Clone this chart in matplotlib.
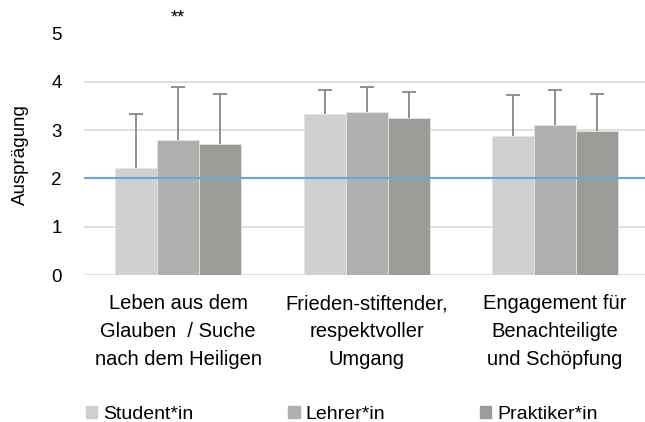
import numpy as np
import matplotlib.pyplot as plt
import matplotlib.patches as mpatches

plt.rcParams['font.family'] = ['Liberation Sans', 'DejaVu Sans']

categories = ['Leben aus dem\nGlauben  / Suche\nnach dem Heiligen',
              'Frieden-stiftender,\nrespektvoller\nUmgang',
              'Engagement für\nBenachteiligte\nund Schöpfung']
series = ['Student*in', 'Lehrer*in', 'Praktiker*in']
means = [[2.21, 3.34, 2.87],
         [2.79, 3.38, 3.11],
         [2.72, 3.25, 2.99]]
errs = [[1.13, 0.50, 0.85],
        [1.10, 0.51, 0.71],
        [1.03, 0.53, 0.76]]
colors = ['#d0d0cf', '#b0b0af', '#9b9c97']
ref_line = 2
sig_marks = ['**', '', '']

fig = plt.figure(figsize=(6.45, 4.22), dpi=100)
ax = fig.add_axes([84/645, 1-275/422, 1-84/645, (275-33.5)/422])

x = np.arange(len(categories))
w = 0.223
for i, s in enumerate(series):
    ax.bar(x + (i-1)*w, means[i], w, color=colors[i], edgecolor='#e4e4e4', linewidth=0.6,
           label=s, zorder=3)
    eb = ax.errorbar(x + (i-1)*w, means[i], yerr=[np.zeros(3), errs[i]], fmt='none',
                     ecolor='#878883', elinewidth=1.3, capsize=5, capthick=1.3, zorder=4)
    eb[1][0].set_visible(False)  # no lower cap

ax.axhline(ref_line, color='#6fa3dc', linewidth=1.5, zorder=5)

for xi, m in zip(x, sig_marks):
    if m:
        ax.text(xi, 5.33, m, ha='center', va='center', fontsize=13)

ax.set_ylim(0, 5)
ax.set_xlim(-0.5, 2.478)
ax.set_yticks(range(6))
ax.set_xticks(x)
ax.set_xticklabels(categories, fontsize=14.5, linespacing=1.6)
ax.tick_params(axis='y', length=0, pad=16, labelsize=13.5)
ax.tick_params(axis='x', length=0, pad=14)
ax.yaxis.grid(True, color='#d9d9d9', linewidth=1.2, zorder=0)
for sp in ax.spines.values():
    sp.set_visible(False)
ax.set_ylabel('Ausprägung', fontsize=13.5)
ax.yaxis.set_label_coords(-0.098, 0.5)

handles = [mpatches.Patch(color=c, label=s) for c, s in zip(colors, series)]
fig.legend(handles=handles, loc='center left', bbox_to_anchor=(86/645, 0.018), ncol=3,
           frameon=False, fontsize=14, handlelength=0.57, handleheight=0.57,
           handletextpad=0.3, columnspacing=4.9, borderpad=0, borderaxespad=0)

fig.savefig('out.png', dpi=100)
